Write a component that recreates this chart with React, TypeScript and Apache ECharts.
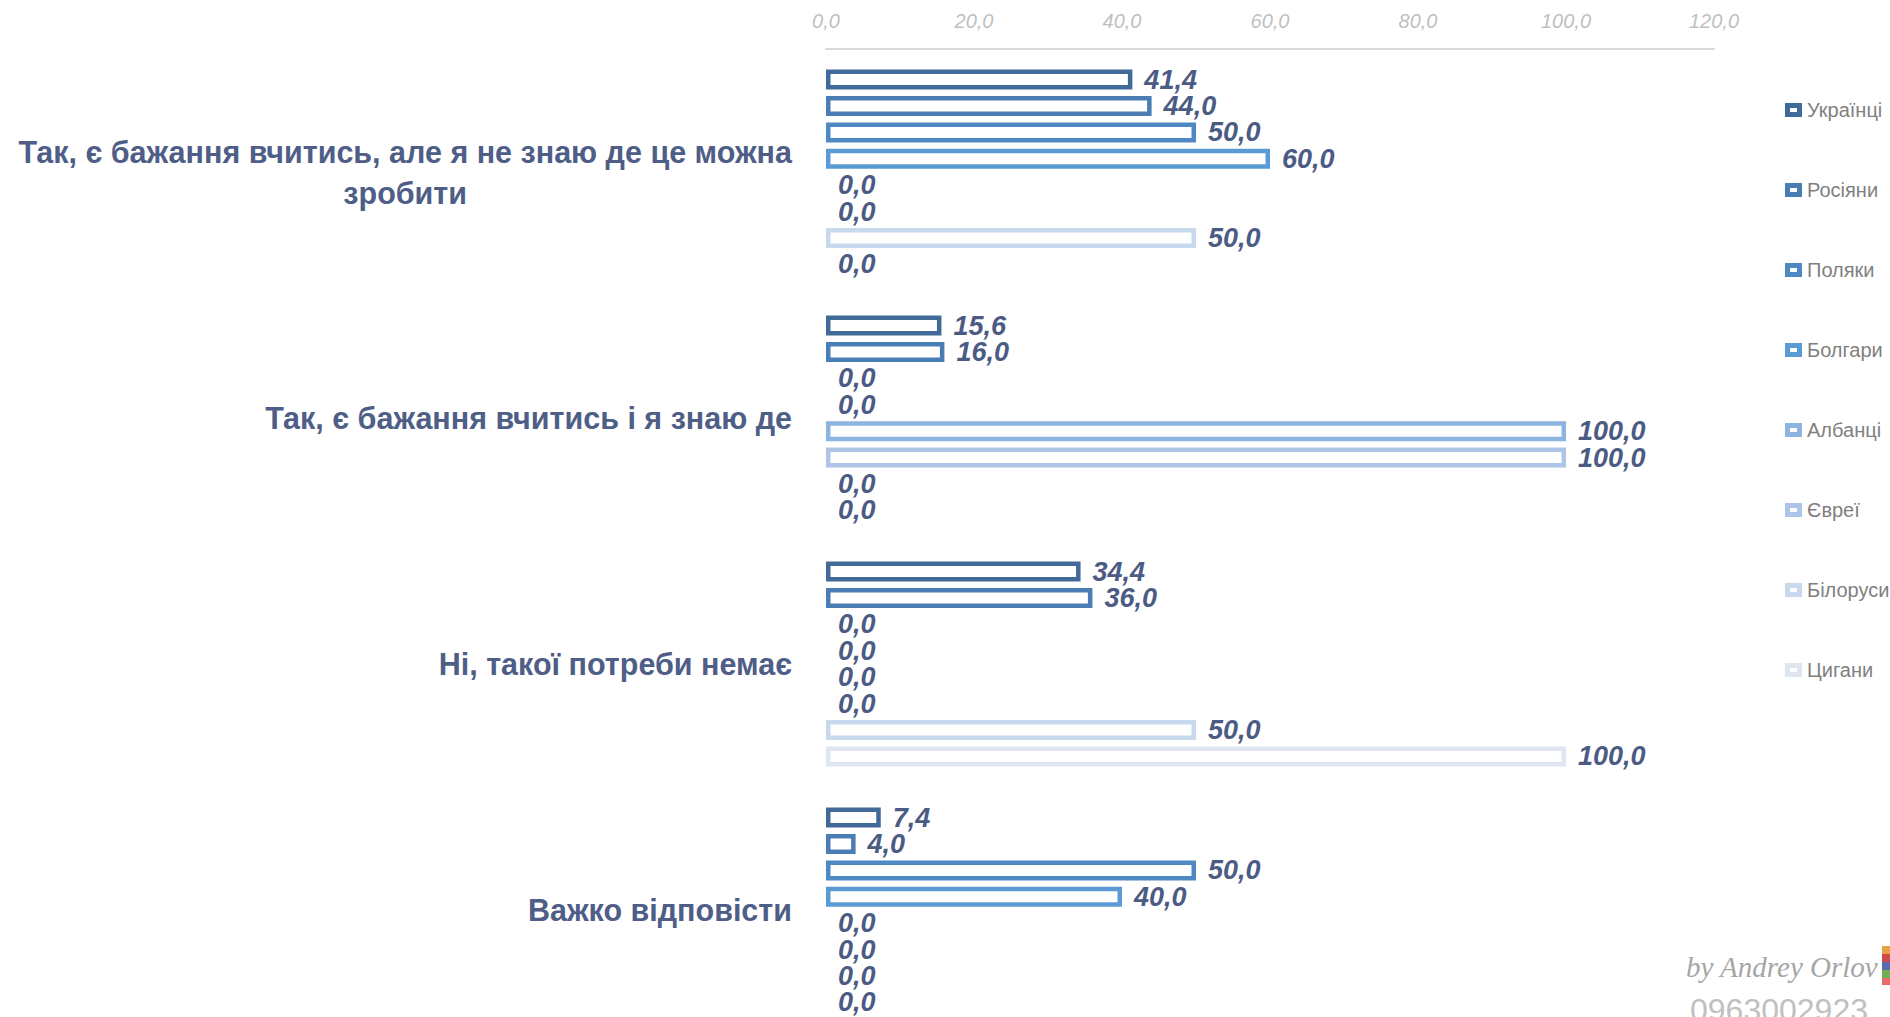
import React, { useEffect, useRef } from "react";
import * as echarts from "echarts";

const categories = [
  "Так, є бажання вчитись, але я не знаю де це можна\nзробити",
  "Так, є бажання вчитись і я знаю де",
  "Ні, такої потреби немає",
  "Важко відповісти",
];

const seriesNames = ["Українці", "Росіяни", "Поляки", "Болгари", "Албанці", "Євреї", "Білоруси", "Цигани"];

const ukrainians = [41.4, 15.6, 34.4, 7.4];
const russians = [44.0, 16.0, 36.0, 4.0];
const poles = [50.0, 0.0, 0.0, 50.0];
const bulgarians = [60.0, 0.0, 0.0, 40.0];
const albanians = [0.0, 100.0, 0.0, 0.0];
const jews = [0.0, 100.0, 0.0, 0.0];
const belarusians = [50.0, 0.0, 50.0, 0.0];
const roma = [0.0, 0.0, 100.0, 0.0];

const seriesValues = [ukrainians, russians, poles, bulgarians, albanians, jews, belarusians, roma];

const colors = ["#416a98", "#4a7db3", "#4f89c4", "#5b9bd5", "#8db3e1", "#adc6e7", "#c8d8ed", "#e0e6f0"];

const xTicks = { min: 0, max: 120, interval: 20 };

const FONT = "'Liberation Sans', Arial, sans-serif";

const fmt = (v: number) => v.toFixed(1).replace(".", ",");

const legendIcon = "path://M0,0H17V14H0Z M5,5V9H12V5Z";

export default function App() {
  const ref = useRef<HTMLDivElement>(null);

  useEffect(() => {
    if (!ref.current) return;
    const chart = echarts.init(ref.current, null, { renderer: "svg" });

    const series = seriesNames.map((name, i) => ({
      name,
      type: "bar",
      data: seriesValues[i].map((v) => (v === 0 ? { value: v, itemStyle: { borderWidth: 0 } } : v)),
      barWidth: 20,
      barGap: "32%",
      itemStyle: {
        color: "#ffffff",
        borderColor: colors[i],
        borderWidth: 4.5,
      },
      label: {
        show: true,
        position: "right",
        distance: 12,
        formatter: (p: any) => fmt(p.value),
        color: "#4b5b83",
        fontFamily: FONT,
        fontWeight: "bold",
        fontStyle: "italic",
        fontSize: 27,
      },
      emphasis: { disabled: true },
    }));

    chart.setOption({
      animation: false,
      backgroundColor: "#ffffff",
      grid: {
        left: 826,
        right: 176,
        top: 49,
        height: 984,
        containLabel: false,
        outerBoundsMode: "none",
      },
      xAxis: {
        type: "value",
        position: "top",
        min: xTicks.min,
        max: xTicks.max,
        interval: xTicks.interval,
        axisLine: { show: true, lineStyle: { color: "#d9d9d9", width: 2 } },
        axisTick: { show: false },
        splitLine: { show: false },
        axisLabel: {
          formatter: (v: number) => fmt(v),
          color: "#bfbfbf",
          fontFamily: FONT,
          fontStyle: "italic",
          fontSize: 20,
          margin: 18,
        },
      },
      yAxis: {
        type: "category",
        data: categories,
        inverse: true,
        axisLine: { show: false },
        axisTick: { show: false },
        axisLabel: {
          margin: 34,
          align: "right",
          formatter: (v: string) =>
            v
              .split("\n")
              .map((s) => `{c|${s}}`)
              .join("\n"),
          rich: {
            c: {
              align: "center",
              color: "#4e5e87",
              fontFamily: FONT,
              fontWeight: "bold",
              fontSize: 30.5,
              lineHeight: 41,
            },
          },
        },
      },
      legend: {
        orient: "vertical",
        left: 1780,
        top: 95,
        itemGap: 60,
        itemWidth: 17,
        itemHeight: 14,
        icon: legendIcon,
        textStyle: { color: "#7f7f7f", fontFamily: FONT, fontSize: 20 },
        data: seriesNames.map((n, i) => ({
          name: n,
          itemStyle: { color: colors[i], borderWidth: 0 },
        })),
      },
      graphic: [
        {
          type: "text",
          left: 1686,
          top: 952,
          style: {
            text: "by Andrey Orlov",
            fill: "#a6a6a6",
            font: "italic 29px 'Liberation Serif', serif",
          },
        },
        {
          type: "text",
          left: 1690,
          top: 994,
          style: {
            text: "0963002923",
            fill: "#c0c0c0",
            font: "32px 'Liberation Sans', sans-serif",
          },
        },
        { type: "rect", shape: { x: 1882, y: 946, width: 8, height: 8 }, style: { fill: "#e8a040" } },
        { type: "rect", shape: { x: 1882, y: 954, width: 8, height: 8 }, style: { fill: "#d04a4a" } },
        { type: "rect", shape: { x: 1882, y: 962, width: 8, height: 8 }, style: { fill: "#5a6ab0" } },
        { type: "rect", shape: { x: 1882, y: 970, width: 8, height: 8 }, style: { fill: "#70b050" } },
        { type: "rect", shape: { x: 1882, y: 978, width: 8, height: 7 }, style: { fill: "#e86a6a" } },
      ],
      series,
    });

    return () => chart.dispose();
  }, []);

  return (
    <div
      ref={ref}
      style={{ position: "fixed", left: 0, top: 0, width: 1890, height: 1017, background: "#fff" }}
    />
  );
}
